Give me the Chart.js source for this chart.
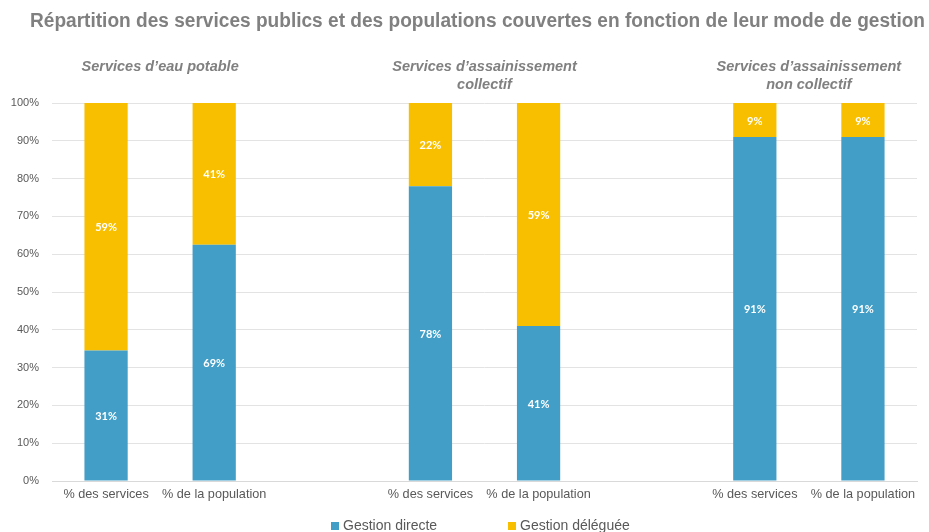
<!DOCTYPE html>
<html>
<head>
<meta charset="utf-8">
<script src="https://cdn.jsdelivr.net/npm/chart.js@4/dist/chart.umd.min.js"></script>
<style>
  html, body { margin: 0; padding: 0; background: #ffffff; }
  #wrap { width: 929px; height: 532px; position: relative; }
</style>
</head>
<body>
<div id="wrap"><canvas id="c" width="929" height="532"></canvas></div>
<script>
// ---- Data ----
const chartTitle = 'Répartition des services publics et des populations couvertes en fonction de leur mode de gestion';
const categories = ['% des services', '% de la population', '', '% des services', '% de la population', '', '% des services', '% de la population'];
const groupTitles = [
  ['Services d’eau potable'],
  ['Services d’assainissement', 'collectif'],
  ['Services d’assainissement', 'non collectif']
];
const groupFirstIndex = [0, 3, 6];
const seriesNames = ['Gestion directe', 'Gestion déléguée'];
const directValues = [34.5, 62.5, null, 78, 41, null, 91, 91];
const delegatedValues = [65.5, 37.5, null, 22, 59, null, 9, 9];
const directLabels = ['31%', '69%', '', '78%', '41%', '', '91%', '91%'];
const delegatedLabels = ['59%', '41%', '', '22%', '59%', '', '9%', '9%'];
const yTicks = [0, 10, 20, 30, 40, 50, 60, 70, 80, 90, 100];

const BLUE = '#429EC6';
const YELLOW = '#F8BF00';
const GREY_TEXT = '#595959';
const TITLE_GREY = '#808080';

function fitText(ctx, text, x, y, maxW, align) {
  const w = ctx.measureText(text).width;
  ctx.save();
  ctx.translate(x, y);
  const s = w > maxW ? maxW / w : 1;
  ctx.scale(s, 1);
  ctx.textAlign = align;
  ctx.fillText(text, 0, 0);
  ctx.restore();
}

const decorPlugin = {
  id: 'decor',
  afterDatasetsDraw(chart) {
    const ctx = chart.ctx;
    const labelSets = [directLabels, delegatedLabels];
    ctx.save();
    ctx.fillStyle = '#ffffff';
    ctx.font = 'bold 11px Lato, "Open Sans", sans-serif';
    ctx.textAlign = 'center';
    ctx.textBaseline = 'middle';
    chart.data.datasets.forEach((ds, di) => {
      const meta = chart.getDatasetMeta(di);
      meta.data.forEach((el, i) => {
        const txt = labelSets[di][i];
        if (!txt || ds.data[i] == null) return;
        const p = el.getProps(['x', 'y', 'base'], true);
        ctx.fillText(txt, p.x, (p.y + p.base) / 2 + 1);
      });
    });
    ctx.restore();
  },
  afterDraw(chart) {
    const ctx = chart.ctx;
    const xs = chart.scales.x;
    ctx.save();
    // main title
    ctx.fillStyle = TITLE_GREY;
    ctx.textBaseline = 'middle';
    ctx.font = 'bold 20px "Liberation Sans", Arial, sans-serif';
    fitText(ctx, chartTitle, 30, 21, 895, 'left');
    // group titles
    ctx.font = 'italic bold 14.5px "Liberation Sans", Arial, sans-serif';
    groupTitles.forEach((lines, g) => {
      const i0 = groupFirstIndex[g];
      const cx = (xs.getPixelForValue(i0) + xs.getPixelForValue(i0 + 1)) / 2;
      lines.forEach((ln, k) => {
        ctx.textAlign = 'center';
        ctx.fillText(ln, cx, 67 + k * 18);
      });
    });
    // legend
    const colors = [BLUE, YELLOW];
    const starts = [331, 508];
    ctx.font = '14px "Liberation Sans", Arial, sans-serif';
    ctx.textBaseline = 'middle';
    seriesNames.forEach((name, k) => {
      ctx.fillStyle = colors[k];
      ctx.fillRect(starts[k], 522, 8, 8);
      ctx.fillStyle = GREY_TEXT;
      fitText(ctx, name, starts[k] + 12, 526, k === 0 ? 98 : 114, 'left');
    });
    ctx.restore();
  }
};

new Chart(document.getElementById('c'), {
  type: 'bar',
  data: {
    labels: categories,
    datasets: [
      { label: seriesNames[0], data: directValues, backgroundColor: BLUE, borderWidth: 0 },
      { label: seriesNames[1], data: delegatedValues, backgroundColor: YELLOW, borderWidth: 0 }
    ]
  },
  options: {
    responsive: false,
    animation: false,
    devicePixelRatio: 1,
    layout: { padding: { top: 103, right: 12, bottom: 30, left: 0 } },
    datasets: { bar: { categoryPercentage: 1, barPercentage: 0.4 } },
    plugins: {
      legend: { display: false },
      title: { display: false },
      tooltip: { enabled: false }
    },
    scales: {
      x: {
        stacked: true,
        grid: { display: false, drawTicks: false },
        border: { display: true, color: '#d9d9d9', width: 1 },
        ticks: {
          autoSkip: false, maxRotation: 0, minRotation: 0, padding: 6,
          color: GREY_TEXT, font: { size: 12.7, family: '"Liberation Sans", Arial, sans-serif' }
        },
        afterFit(scale) { scale.height = 21; }
      },
      y: {
        stacked: true,
        min: 0, max: 100,
        afterBuildTicks(scale) { scale.ticks = yTicks.map(v => ({ value: v })); },
        grid: { color: '#e3e3e3', lineWidth: 1, drawTicks: false },
        border: { display: false },
        ticks: {
          padding: 13,
          color: GREY_TEXT,
          font: { size: 11, family: '"Liberation Sans", Arial, sans-serif' },
          callback: v => v + '%'
        },
        afterFit(scale) { scale.width = 52; }
      }
    }
  },
  plugins: [decorPlugin]
});
</script>
</body>
</html>
